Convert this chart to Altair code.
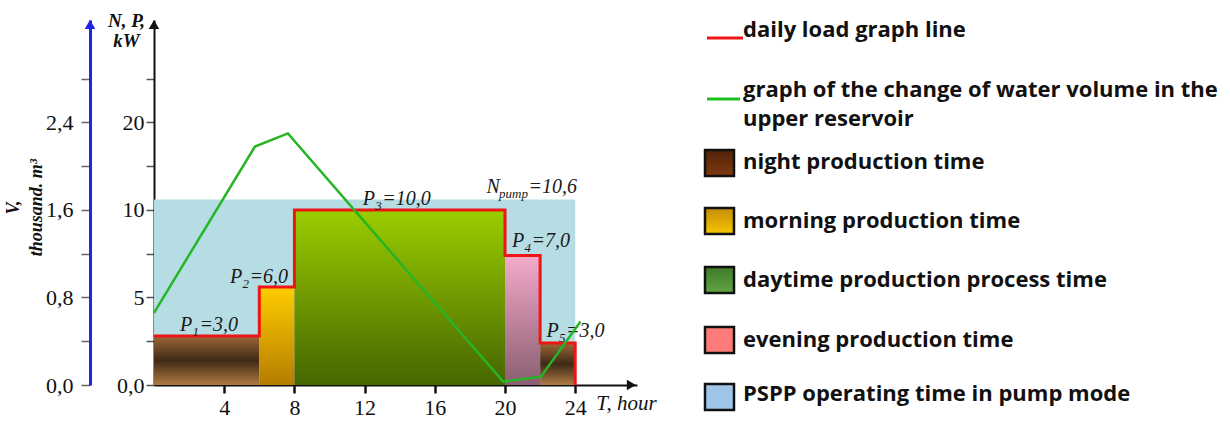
import altair as alt
import pandas as pd

# ---------------- data ----------------
seg_start = [0, 6, 8, 20, 22]
seg_end = [6, 8, 20, 22, 24]
seg_load = [2.8, 5.6, 10.0, 7.4, 2.4]
seg_period = ["night", "morning", "daytime", "evening", "night"]

pump_from = [0]
pump_to = [24]
pump_level = [10.6]

vol_hour = [0, 5.75, 7.63, 19.9, 22.05, 24.3]
vol_value = [0.66, 2.18, 2.30, 0.03, 0.076, 0.58]

lab_main = ["P", "P", "P", "N", "P", "P"]
lab_sub = ["1", "2", "3", "pump", "4", "5"]
lab_rest = ["=3,0", "=6,0", "=10,0", "=10,6", "=7,0", "=3,0"]
lab_hour = [1.48, 4.33, 11.9, 18.95, 20.4, 22.37]
lab_kw = [3.09, 5.85, 10.29, 10.97, 7.9, 2.76]

x_ticks = [4, 8, 12, 16, 20, 24]
n_ticks = [0, 2.5, 5, 7.5, 10, 12.5, 15, 17.5]
n_tick_labels = ["0,0", "", "5", "", "10", "", "20", ""]
v_ticks = [0, 0.4, 0.8, 1.2, 1.6, 2.0, 2.4, 2.8]
v_tick_labels = ["0,0", "", "0,8", "", "1,6", "", "2,4", ""]

legend_text = [
    "daily load graph line",
    "graph of the change of water volume in the",
    "upper reservoir",
    "night production time",
    "morning production time",
    "daytime production process time",
    "evening production time",
    "PSPP operating time in pump mode",
]
legend_swatch = ["night", "morning", "daytime", "evening", "pump"]

# ---------------- layout ----------------
W, H = 1230, 424
PAD_L, PAD_T = 154, 20
PLOT_W, PLOT_H = 483, 365
X_MAX = 27.52
N_MAX = 20.857
V_MAX = N_MAX * 0.16
LEG_X0 = 546
LEG_W, LEG_H = 530, 385
legend_text_y = [9.5, 70, 99, 142, 201, 260, 320, 374]
legend_swatch_y = [143, 201, 260, 320, 377]
SERIF = "Liberation Serif"
SANS = "Open Sans"


def label_expr(vals, labels):
    expr = "''"
    for v, l in reversed(list(zip(vals, labels))):
        expr = f"datum.value == {v} ? '{l}' : ({expr})"
    return expr


def grad(stops):
    return alt.Gradient(
        gradient="linear",
        stops=[alt.GradientStop(offset=o, color=c) for o, c in stops],
        x1=0, x2=0, y1=0, y2=1,
    )


x_scale = alt.Scale(domain=[0, X_MAX], nice=False, zero=False)
n_scale = alt.Scale(domain=[0, N_MAX], nice=False, zero=False)
v_scale = alt.Scale(domain=[0, V_MAX], nice=False, zero=False)

x_axis = alt.Axis(
    values=x_ticks, title="T, hour", titleFont=SERIF, titleFontStyle="italic",
    titleFontWeight="normal", titleFontSize=21, titleX=472, titleY=18,
    titleAlign="center", titleBaseline="middle", titleAngle=0, titleColor="#111",
    labelFont=SERIF, labelFontSize=22, labelColor="#111", labelPadding=4,
    tickSize=8, tickWidth=2.5, tickColor="#111", domainColor="#111",
    domainWidth=2, grid=False, labelFlush=False, labelOverlap=False,
)
n_axis = alt.Axis(
    values=n_ticks, labelExpr=label_expr(n_ticks, n_tick_labels),
    title=["N, P,", "kW"], titleAngle=0, titleX=-28, titleY=6,
    titleAlign="center", titleBaseline="alphabetic", titleFont=SERIF,
    titleFontStyle="italic", titleFontWeight="bold", titleFontSize=19,
    titleLineHeight=20, titleColor="#111",
    labelFont=SERIF, labelFontSize=22, labelColor="#111", labelPadding=2,
    tickSize=8, tickWidth=1.5, tickColor="#555", domainColor="#111",
    domainWidth=2, grid=False, labelFlush=False, labelOverlap=False,
)
v_axis = alt.Axis(
    orient="left", offset=64, values=v_ticks,
    labelExpr=label_expr(v_ticks, v_tick_labels),
    title=["V,", "thousand. m³"], titleAngle=-90, titleX=-72, titleY=187,
    titleAlign="center", titleBaseline="alphabetic", titleFont=SERIF,
    titleFontStyle="italic", titleFontWeight="bold", titleFontSize=18,
    titleLineHeight=23, titleColor="#111",
    labelFont=SERIF, labelFontSize=22, labelColor="#111", labelPadding=8,
    tickSize=9, tickWidth=1.5, tickColor="#666", domainColor="#2222ee",
    domainWidth=3, grid=False, labelFlush=False, labelOverlap=False,
)


def X(f, axis=True):
    return alt.X(f, type="quantitative", scale=x_scale,
                 axis=x_axis if axis else None)


def YN(f):
    return alt.Y(f, type="quantitative", scale=n_scale, axis=n_axis)


seg_df = pd.DataFrame({"start": seg_start, "end": seg_end, "load": seg_load,
                       "period": seg_period})
seg_df["base"] = 0.0

pump_df = pd.DataFrame({"start": pump_from, "end": pump_to, "level": pump_level})
pump_df["base"] = 0.0

line_df = pd.DataFrame({"h": seg_start + [seg_end[-1]], "kw": seg_load + [0.0]})

vol_df = pd.DataFrame({"h": vol_hour, "v": vol_value})

lab_df = pd.DataFrame({"main": lab_main, "sub": lab_sub, "rest": lab_rest,
                       "h": lab_hour, "kw": lab_kw})
lab_df["kind"] = lab_df["main"]

pump_rect = alt.Chart(pump_df).mark_rect(fill="#b6dde3").encode(
    x=X("start"), x2="end", y=YN("level"), y2="base")

grads = {
    "night": [(0, "#9c6838"), (0.5, "#3e2a14"), (1, "#b07a44")],
    "morning": [(0, "#ffcc00"), (1, "#b57d00")],
    "daytime": [(0, "#9acd00"), (1, "#466600")],
    "evening": [(0, "#f4aacb"), (1, "#8a5e70")],
}
bars = [
    alt.Chart(seg_df).transform_filter(alt.datum.period == p)
    .mark_rect(fill=grad(s)).encode(x=X("start"), x2="end", y=YN("load"), y2="base")
    for p, s in grads.items()
]

load_line = alt.Chart(line_df).mark_line(
    color="#ee1515", strokeWidth=3, interpolate="step-after").encode(
    x=X("h"), y=YN("kw"))

txt = dict(font=SERIF, fontStyle="italic", color="#1a1a1a", align="left",
           baseline="alphabetic")
t_main = alt.Chart(lab_df).mark_text(fontSize=20, **txt).encode(
    x=X("h"), y=YN("kw"), text="main")
t_sub = alt.Chart(lab_df).mark_text(fontSize=13, dx=12.5, dy=5, **txt).encode(
    x=X("h"), y=YN("kw"), text="sub")
t_rest_p = alt.Chart(lab_df).transform_filter(alt.datum.kind == "P").mark_text(
    fontSize=20, dx=19.5, **txt).encode(x=X("h"), y=YN("kw"), text="rest")
t_rest_n = alt.Chart(lab_df).transform_filter(alt.datum.kind == "N").mark_text(
    fontSize=20, dx=42, **txt).encode(x=X("h"), y=YN("kw"), text="rest")

arrow_df = pd.DataFrame({"h": [0.0], "kw": [20.6]})
n_arrow = alt.Chart(arrow_df).mark_point(
    shape="triangle-up", filled=True, size=110, color="#111", opacity=1).encode(
    x=X("h"), y=YN("kw"))
xarrow_df = pd.DataFrame({"h": [27.2], "kw": [0.0]})
x_arrow = alt.Chart(xarrow_df).mark_point(
    shape="triangle-right", filled=True, size=110, color="#111", opacity=1).encode(
    x=X("h"), y=YN("kw"))

n_layer = alt.layer(pump_rect, *bars, load_line, t_main, t_sub, t_rest_p,
                    t_rest_n, n_arrow, x_arrow)

vol_line = alt.Chart(vol_df).mark_line(color="#25b525", strokeWidth=2.5).encode(
    x=X("h", axis=False), y=alt.Y("v:Q", scale=v_scale, axis=v_axis))
v_arrow = alt.Chart(pd.DataFrame({"v": [V_MAX - 0.04]})).mark_point(
    shape="triangle-up", filled=True, size=110, color="#2222ee", opacity=1).encode(
    x=alt.value(-64), y=alt.Y("v:Q", scale=v_scale, axis=v_axis))
v_layer = alt.layer(vol_line, v_arrow)

# ---------------- legend (own pixel scales, right of the plot) ----------------
lx = alt.Scale(domain=[0, LEG_W], range=[LEG_X0, LEG_X0 + LEG_W], nice=False, zero=False)
ly = alt.Scale(domain=[0, LEG_H], range=[0, LEG_H], nice=False, zero=False)


def LX(f):
    return alt.X(f, type="quantitative", scale=lx, axis=None)


def LY(f):
    return alt.Y(f, type="quantitative", scale=ly, axis=None)


leg_text_df = pd.DataFrame({"label": legend_text, "y": legend_text_y})
leg_text_df["x"] = 43.0
leg_text = alt.Chart(leg_text_df).mark_text(
    font=SANS, fontWeight="bold", fontSize=22, align="left", baseline="middle",
    color="#111").encode(x=LX("x"), y=LY("y"), text="label")

leg_lines_df = pd.DataFrame({"key": ["load", "load", "vol", "vol"],
                             "x": [7, 43, 7, 40], "y": [18, 18, 79, 79]})
leg_red = alt.Chart(leg_lines_df).transform_filter(alt.datum.key == "load").mark_line(
    color="#ee1515", strokeWidth=3).encode(x=LX("x"), y=LY("y"))
leg_green = alt.Chart(leg_lines_df).transform_filter(alt.datum.key == "vol").mark_line(
    color="#20c020", strokeWidth=3).encode(x=LX("x"), y=LY("y"))

sw_df = pd.DataFrame({"key": legend_swatch, "yc": legend_swatch_y})
sw_df["y0"] = sw_df["yc"] - 13
sw_df["y1"] = sw_df["yc"] + 13
sw_df["x0"] = 5.0
sw_df["x1"] = 34.0
sw_fills = {
    "night": grad([(0, "#4e2208"), (1, "#7f3a12")]),
    "morning": grad([(0, "#c48e08"), (1, "#f8c400")]),
    "daytime": grad([(0, "#3e7a2a"), (1, "#62a442")]),
    "evening": "#ff7b7b",
    "pump": "#9fc5e8",
}
swatches = [
    alt.Chart(sw_df).transform_filter(alt.datum.key == k).mark_rect(
        fill=f, stroke="#111", strokeWidth=2.5).encode(
        x=LX("x0"), x2="x1", y=LY("y0"), y2="y1")
    for k, f in sw_fills.items()
]

legend = alt.layer(leg_red, leg_green, *swatches, leg_text)

chart = alt.layer(n_layer, v_layer, legend).resolve_scale(
    x="independent", y="independent").properties(
    width=PLOT_W, height=PLOT_H,
    padding={"left": PAD_L, "top": PAD_T, "right": W - PAD_L - PLOT_W,
             "bottom": H - PAD_T - PLOT_H},
    autosize=alt.AutoSizeParams(type="none"),
    background="white",
).configure_view(stroke=None)

chart.save("out.html", embed_options={"renderer": "svg", "actions": False})
